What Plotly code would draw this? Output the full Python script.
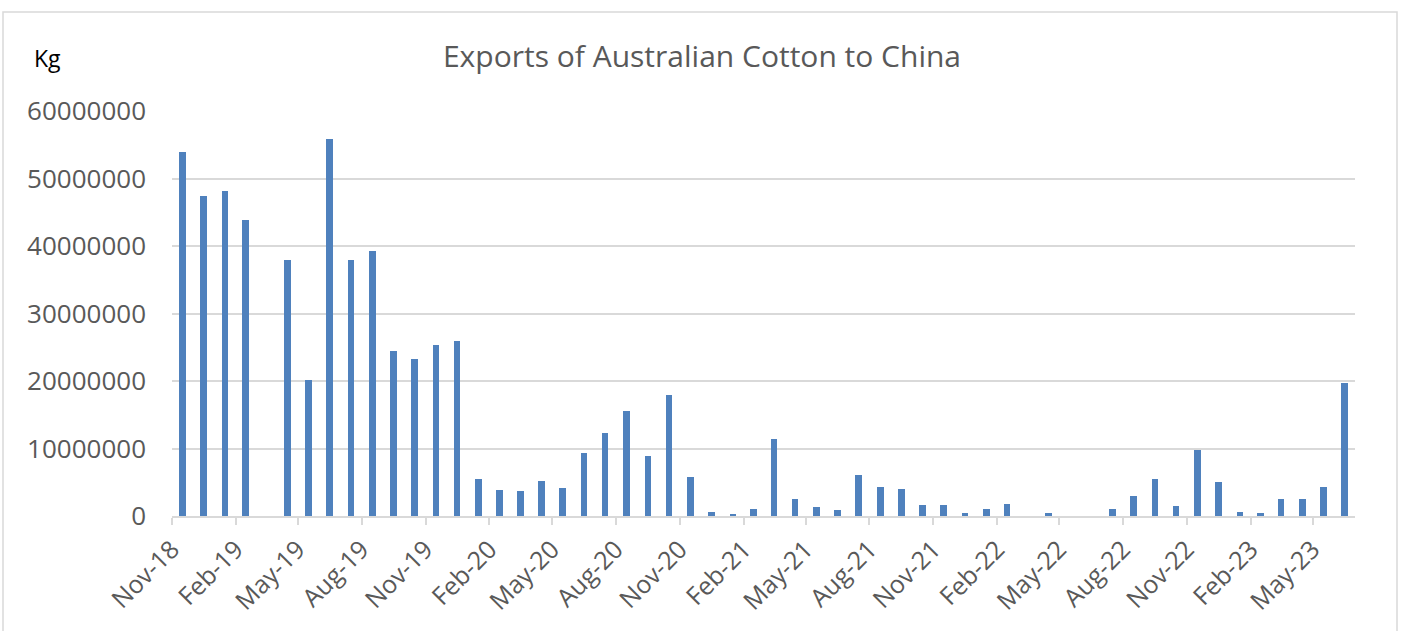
import plotly.graph_objects as go
import pandas as pd

months = pd.date_range("2018-11-01", "2023-06-01", freq="MS").strftime("%Y-%m-%d").tolist()
exports_kg = [
    54.0e6, 47.4e6, 48.1e6, 43.8e6, 0, 37.9e6, 20.1e6, 55.8e6, 37.9e6, 39.2e6,
    24.5e6, 23.2e6, 25.3e6, 26.0e6, 5.5e6, 3.8e6, 3.7e6, 5.2e6, 4.2e6, 9.3e6,
    12.35e6, 15.6e6, 8.9e6, 18.0e6, 5.8e6, 0.6e6, 0.25e6, 1.0e6, 11.35e6, 2.45e6,
    1.4e6, 0.95e6, 6.1e6, 4.25e6, 3.95e6, 1.6e6, 1.7e6, 0.5e6, 1.0e6, 1.8e6,
    0, 0.5e6, 0, 0, 1.0e6, 2.9e6, 5.5e6, 1.5e6, 9.75e6, 5.0e6,
    0.65e6, 0.4e6, 2.45e6, 2.55e6, 4.35e6, 19.75e6,
]

title_text = "Exports of Australian Cotton to China"
unit_text = "Kg"

fig = go.Figure()
fig.add_trace(go.Bar(
    x=months,
    y=exports_kg,
    xperiod="M1",
    xperiodalignment="middle",
    width=8.2e8,
    marker=dict(color="#4F81BD", line=dict(width=0)),
    hoverinfo="x+y",
))

L, R, T, B = 172, 48, 111, 115
W, H = 1403, 631
pw = W - L - R
ph = H - T - B

fig.update_layout(
    width=W, height=H,
    margin=dict(l=L, r=R, t=T, b=B, pad=0),
    paper_bgcolor="white",
    plot_bgcolor="white",
    showlegend=False,
    bargap=0,
    font=dict(family="Open Sans, Calibri, sans-serif", color="#595959"),
    title=dict(text=title_text, x=(702 - L) / pw, xref="paper", xanchor="center",
               y=1 - 56 / H, yanchor="middle",
               font=dict(size=30, color="#595959")),
    xaxis=dict(
        type="date",
        range=["2018-11-01", "2023-07-01"],
        tick0="2018-11-01",
        dtick="M3",
        tickformat="%b-%y",
        tickangle=-45,
        ticks="outside",
        ticklen=7,
        tickcolor="#d9d9d9",
        tickwidth=1.5,
        showgrid=False,
        showline=True,
        linecolor="#d9d9d9",
        linewidth=1.5,
        tickfont=dict(size=25, color="#595959"),
        fixedrange=True,
    ),
    yaxis=dict(
        range=[0, 60e6],
        dtick=10e6,
        tickformat="d",
        showgrid=True,
        gridcolor="#d9d9d9",
        gridwidth=1.5,
        zeroline=False,
        showline=False,
        ticks="",
        ticklabelstandoff=25,
        tickfont=dict(size=26, color="#595959"),
        fixedrange=True,
    ),
    annotations=[dict(
        text=unit_text, xref="paper", yref="paper",
        x=(32 - L) / pw, y=(H - B - 58) / ph, xanchor="left", yanchor="middle",
        showarrow=False, font=dict(size=23, color="#000000"),
    )],
    shapes=[dict(
        type="rect", xref="paper", yref="paper",
        x0=(3 - L) / pw, x1=(1397 - L) / pw,
        y0=-(B + 20) / ph, y1=(H - B - 12) / ph,
        line=dict(color="#d9d9d9", width=1.5), fillcolor="rgba(0,0,0,0)", layer="below",
    )],
)

fig.write_html("out.html")
